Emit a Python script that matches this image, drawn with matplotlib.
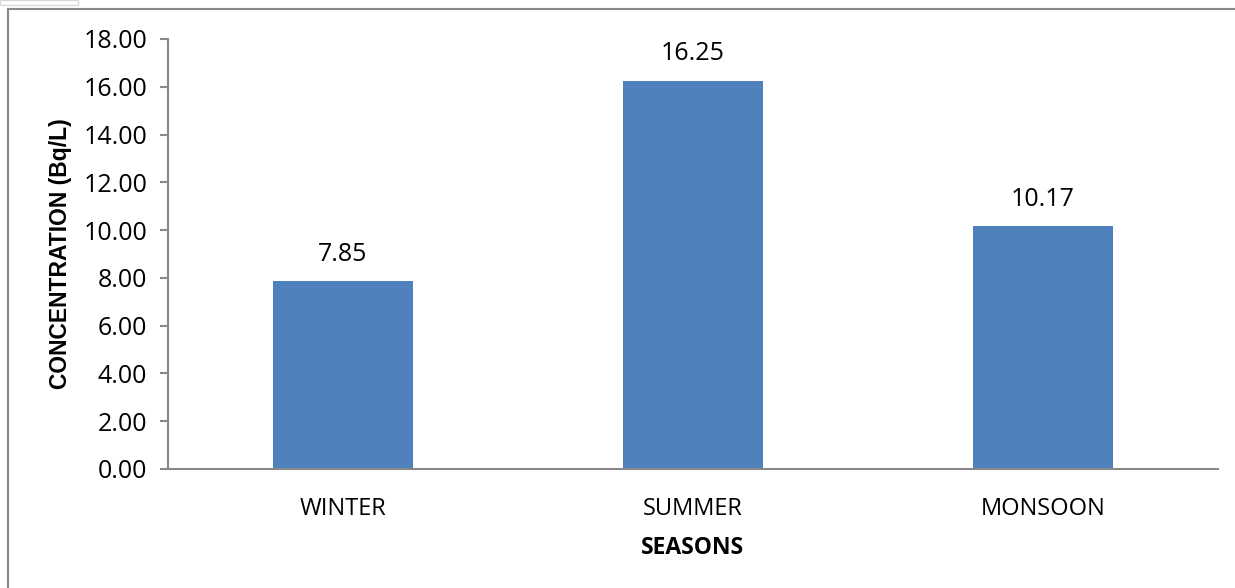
import numpy as np
import matplotlib.pyplot as plt
from matplotlib.patches import Rectangle

plt.rcParams['font.family'] = ['Open Sans', 'DejaVu Sans']

# data
seasons = ['WINTER', 'SUMMER', 'MONSOON']
conc = [7.85, 16.25, 10.17]
yticks = np.arange(0, 18.01, 2)

W, H = 1235, 588
fig = plt.figure(figsize=(W / 100, H / 100), dpi=100)

# outer chart frame
fig.patches.append(Rectangle((8 / W, -0.1), 1.2, 1.1 - 9 / H, transform=fig.transFigure,
                             fill=False, edgecolor='#898989', lw=1.5))
fig.patches.append(Rectangle((0, 1 - 5 / H), 78 / W, 5 / H, transform=fig.transFigure,
                             fill=False, edgecolor='#d9d9d9', lw=1))

ax = fig.add_axes([168 / W, 1 - 469 / H, (1218 - 168) / W, (469 - 39) / H])
x = np.arange(len(seasons))
ax.bar(x, conc, width=0.4, color='#4f81bd')
ax.set_xlim(-0.5, 2.5)
ax.set_ylim(0, 18)
ax.set_yticks(yticks)
ax.set_yticklabels(['%.2f' % v for v in yticks], fontsize=18)
ax.set_xticks(x)
ax.set_xticklabels(seasons, fontsize=17)
ax.tick_params(axis='x', length=0, pad=20)
ax.tick_params(axis='y', length=6, width=1.5, color='#898989', pad=9)
for s in ['top', 'right']:
    ax.spines[s].set_visible(False)
for s in ['left', 'bottom']:
    ax.spines[s].set_color('#898989')
    ax.spines[s].set_linewidth(1.5)

for xi, v in zip(x, conc):
    ax.text(xi, v + 0.6, '%.2f' % v, ha='center', va='bottom', fontsize=18)

ax.set_ylabel('CONCENTRATION (Bq/L)', fontsize=16.5, fontweight='bold', labelpad=8,
              family=['Liberation Sans', 'DejaVu Sans'])
ax.set_xlabel('SEASONS', fontsize=16.5, fontweight='bold', labelpad=11)

plt.savefig('out.png', dpi=100)
